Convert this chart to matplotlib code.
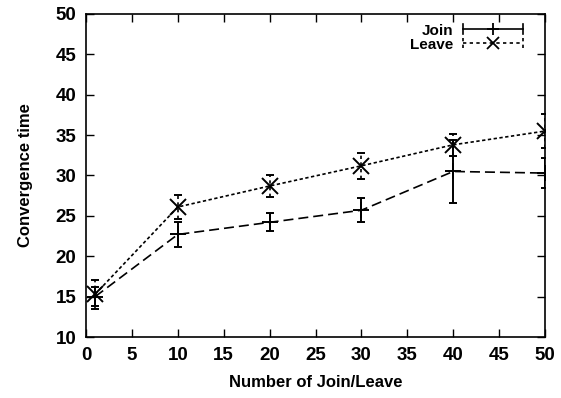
import matplotlib
matplotlib.use("Agg")
import matplotlib.pyplot as plt
from matplotlib.legend_handler import HandlerBase
from matplotlib.lines import Line2D

x_vals = [1, 10, 20, 30, 40, 50]
join_y = [15.0, 22.7, 24.2, 25.7, 30.5, 30.3]
join_err = [1.2, 1.5, 1.1, 1.5, 3.9, 1.9]
leave_y = [15.3, 26.1, 28.7, 31.2, 33.8, 35.5]
leave_err = [1.8, 1.5, 1.4, 1.6, 1.4, 2.1]
x_ticks = [0, 5, 10, 15, 20, 25, 30, 35, 40, 45, 50]
y_ticks = [10, 15, 20, 25, 30, 35, 40, 45, 50]

plt.rcParams['font.family'] = ['Liberation Sans', 'DejaVu Sans']
plt.rcParams['font.weight'] = 'bold'


class GnuplotErrHandler(HandlerBase):
    def __init__(self, marker, ms, ls):
        super().__init__()
        self.marker = marker
        self.ms = ms
        self.ls = ls

    def create_artists(self, legend, orig_handle, xdescent, ydescent, width, height, fontsize, trans):
        y = height / 2 - ydescent
        x0 = -xdescent
        x1 = -xdescent + width
        h = 3.5
        arts = []
        arts.append(Line2D([x0, x1], [y, y], color='black', lw=1.2, linestyle=self.ls, transform=trans))
        arts.append(Line2D([x0, x0], [y - h, y + h], color='black', lw=1.2, linestyle=self.ls, transform=trans))
        arts.append(Line2D([x1, x1], [y - h, y + h], color='black', lw=1.2, linestyle=self.ls, transform=trans))
        arts.append(Line2D([(x0 + x1) / 2], [y], color='black', marker=self.marker, markersize=self.ms,
                           markeredgewidth=1.3, linestyle='none', transform=trans))
        return arts


fig = plt.figure(figsize=(5.61, 3.98), dpi=100)
ax = fig.add_axes([86 / 561, 61 / 398, 459 / 561, 323 / 398])

e1 = ax.errorbar(x_vals, join_y, yerr=join_err, color='black', linestyle=(0, (6, 3)),
                 linewidth=1.2, marker='+', markersize=11, markeredgewidth=1.4,
                 capsize=3, elinewidth=1.4, capthick=1.4, label='Join')
e2 = ax.errorbar(x_vals, leave_y, yerr=leave_err, color='black', linestyle=(0, (2, 1.5)),
                 linewidth=1.2, marker='x', markersize=11, markeredgewidth=1.4,
                 capsize=3, elinewidth=1.2, capthick=1.2, label='Leave')
for bar in e2[2]:
    bar.set_linestyle((0, (2, 2)))

ax.set_xlim(0, 50)
ax.set_ylim(10, 50)
ax.set_xticks(x_ticks)
ax.set_yticks(y_ticks)
ax.tick_params(direction='in', top=True, right=True, length=6, width=1, labelsize=13.5, pad=7)
for sp in ax.spines.values():
    sp.set_linewidth(1.2)
ax.set_xlabel('Number of Join/Leave', fontsize=12, fontweight='bold', labelpad=8)
ax.set_ylabel('Convergence time', fontsize=12, fontweight='bold', labelpad=16)

leg = ax.legend([e1, e2], ['Join', 'Leave'], loc='upper right', frameon=False, markerfirst=False,
                fontsize=11, handlelength=3.9, borderaxespad=0, borderpad=0,
                labelspacing=0.0, handletextpad=0.65, bbox_to_anchor=(0.952, 0.97),
                handler_map={e1: GnuplotErrHandler('+', 8, '-'),
                             e2: GnuplotErrHandler('x', 8, (0, (2, 2)))})

fig.savefig('out.png', dpi=100)
